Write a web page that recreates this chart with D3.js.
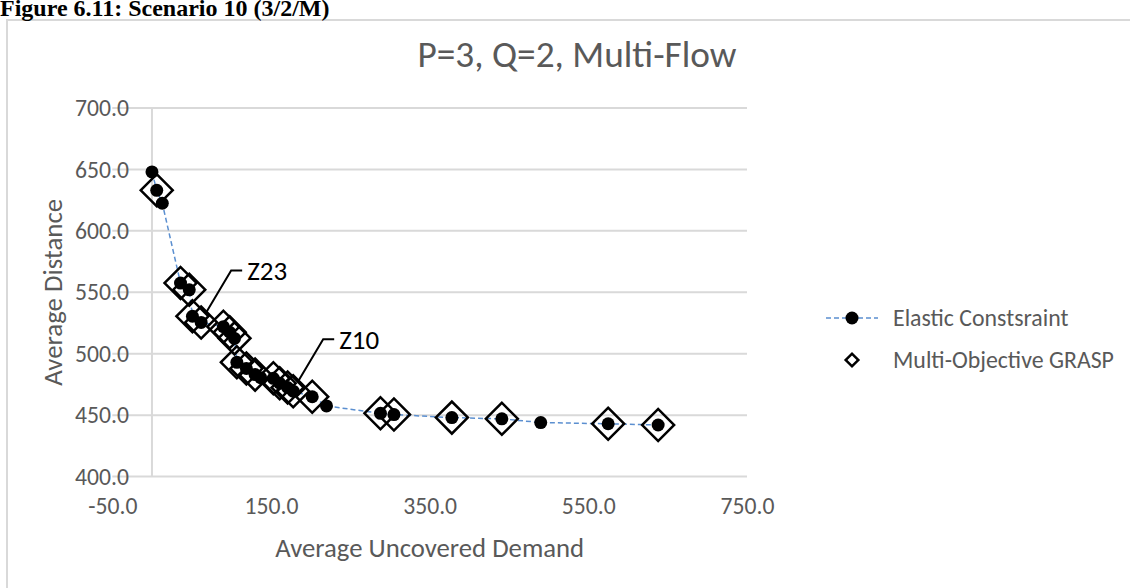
<!DOCTYPE html>
<html lang="en">
<head>
    <meta charset="UTF-8">
    <title>P=3, Q=2, Multi-Flow</title>
    <script src="https://d3js.org/d3.v7.min.js"></script>
    <style>
        body { margin: 0; background: #fff; }
        text { font-family: Carlito, Calibri, Lato, sans-serif; }
        .tick text { fill: #595959; font-size: 21px; }
        .grid { stroke: #d9d9d9; stroke-width: 2px; }
    </style>
</head>
<body>
    <svg width="1130" height="588"></svg>
    <script>
        // Elastic Constraint (x = avg uncovered demand, y = avg distance)
        const elasticX = [0, 6, 13, 36, 47, 51, 62, 90, 98, 104, 107, 119, 130, 137, 153, 161, 171, 178, 202, 220, 288, 305, 378, 441, 490, 575, 638];
        const elasticY = [648, 633, 622.5, 557.5, 552, 530.5, 525.5, 522, 517.5, 512.5, 493, 488, 483, 480.5, 480, 476, 472.5, 469.5, 465, 457.5, 451.5, 450.5, 448, 447, 444, 443, 442];

        // Multi-Objective GRASP
        const graspX = [6, 36, 47, 51, 62, 90, 98, 104, 107, 119, 130, 153, 161, 171, 178, 202, 288, 305, 378, 441, 575, 638];
        const graspY = [633, 557.5, 552, 530.5, 525.5, 522, 517.5, 512.5, 493, 488, 483, 480, 476, 472.5, 469.5, 465, 451.5, 450.5, 448, 447, 443, 442];

        const xTicks = [-50, 150, 350, 550, 750];
        const yTicks = [400, 450, 500, 550, 600, 650, 700];

        // labelled points: [x, y, text]
        const labelPts = [[62, 525.5, "Z23"], [178, 469.5, "Z10"]];

        const svg = d3.select("svg");
        const x = d3.scaleLinear().domain([-50, 750]).range([112.3, 747]);
        const y = d3.scaleLinear().domain([400, 700]).range([476.6, 108]);
        const fmt = d => d3.format(".1f")(d).replace("\u2212", "-");

        // scale a text's font so it is as wide as the original (Calibri) text
        function fit(sel, width) {
            const node = sel.node();
            const fs = parseFloat(getComputedStyle(node).fontSize);
            const w = node.getComputedTextLength();
            const size = fs * width / w;
            sel.style("font-size", size + "px");
            return size;
        }

        // chart border (runs off the right/bottom of the picture)
        svg.append("rect").attr("x", 7).attr("y", 20).attr("width", 1200).attr("height", 700)
            .attr("fill", "none").attr("stroke", "#d9d9d9").attr("stroke-width", 2);

        // caption above the chart, cut at the top
        svg.append("text").attr("x", 0).attr("y", 16)
            .style("font-family", "'Liberation Serif', 'Times New Roman', serif")
            .style("font-weight", "bold").style("font-size", "24px")
            .text("Figure 6.11: Scenario 10 (3/2/M)");

        // gridlines
        svg.append("g").selectAll("line").data(yTicks).join("line")
            .attr("class", "grid")
            .attr("x1", x(-50)).attr("x2", x(750))
            .attr("y1", d => y(d)).attr("y2", d => y(d));

        // y axis line at x = 0
        svg.append("line").attr("class", "grid")
            .attr("x1", x(0)).attr("x2", x(0)).attr("y1", y(400)).attr("y2", y(700));

        const yAxis = svg.append("g").attr("transform", `translate(${x(0)},0)`)
            .call(d3.axisLeft(y).tickValues(yTicks).tickFormat(fmt).tickSize(0).tickPadding(23));
        yAxis.select(".domain").remove();

        const xAxis = svg.append("g").attr("transform", `translate(0,${y(400)})`)
            .call(d3.axisBottom(x).tickValues(xTicks).tickFormat(fmt).tickSize(0).tickPadding(21));
        xAxis.select(".domain").remove();

        const tickSize = fit(yAxis.select(".tick:last-of-type text"), 54);
        svg.selectAll(".tick text").style("font-size", tickSize + "px");

        // title + axis titles
        const title = svg.append("text").attr("x", 577).attr("y", 67).attr("text-anchor", "middle")
            .attr("fill", "#595959").style("font-size", "36px").text("P=3, Q=2, Multi-Flow");
        fit(title, 319);
        const xTitle = svg.append("text").attr("x", (x(-50) + x(750)) / 2).attr("y", 557).attr("text-anchor", "middle")
            .attr("fill", "#595959").style("font-size", "25px").text("Average Uncovered Demand");
        fit(xTitle, 309);
        const yTitle = svg.append("text").attr("transform", `translate(62,${(y(400) + y(700)) / 2}) rotate(-90)`)
            .attr("text-anchor", "middle")
            .attr("fill", "#595959").style("font-size", "25px").text("Average Distance");
        fit(yTitle, 187);

        // dashed connecting line
        const elastic = elasticX.map((d, i) => [d, elasticY[i]]);
        const grasp = graspX.map((d, i) => [d, graspY[i]]);
        svg.append("path").datum(elastic)
            .attr("d", d3.line().x(d => x(d[0])).y(d => y(d[1])))
            .attr("fill", "none").attr("stroke", "#5b8fd0").attr("stroke-width", 1.5)
            .attr("stroke-dasharray", "5,3");

        const diamond = d3.symbol().type(d3.symbolSquare).size(16 * 16 * 2);
        svg.append("g").selectAll("path").data(grasp).join("path")
            .attr("d", diamond)
            .attr("transform", d => `translate(${x(d[0])},${y(d[1])}) rotate(45)`)
            .attr("fill", "none").attr("stroke", "#000").attr("stroke-width", 2.5);

        svg.append("g").selectAll("circle").data(elastic).join("circle")
            .attr("cx", d => x(d[0])).attr("cy", d => y(d[1])).attr("r", 6.5).attr("fill", "#000");

        // data labels with leader lines
        labelPts.forEach(p => {
            const px = x(p[0]), py = y(p[1]);
            svg.append("polyline")
                .attr("points", [[px + 5, py - 10], [px + 30, py - 52], [px + 41, py - 52]].map(q => q.join(",")).join(" "))
                .attr("fill", "none").attr("stroke", "#000").attr("stroke-width", 2);
            const t = svg.append("text").attr("x", px + 46).attr("y", py - 52).attr("dy", "0.35em")
                .attr("fill", "#000").style("font-size", "25px").text(p[2]);
            fit(t, 40);
        });

        // legend
        const lg = svg.append("g");
        lg.append("line").attr("x1", 826).attr("x2", 878).attr("y1", 318).attr("y2", 318)
            .attr("stroke", "#5b8fd0").attr("stroke-width", 1.5).attr("stroke-dasharray", "5,3");
        lg.append("circle").attr("cx", 852).attr("cy", 318).attr("r", 6.5).attr("fill", "#000");
        const l1 = lg.append("text").attr("x", 893).attr("y", 318).attr("dy", "0.35em")
            .attr("fill", "#595959").style("font-size", "21px").text("Elastic Constsraint");
        lg.append("path").attr("d", d3.symbol().type(d3.symbolSquare).size(80))
            .attr("transform", "translate(852,360) rotate(45)")
            .attr("fill", "none").attr("stroke", "#000").attr("stroke-width", 2.5);
        const l2 = lg.append("text").attr("x", 893).attr("y", 360).attr("dy", "0.35em")
            .attr("fill", "#595959").style("font-size", "21px").text("Multi-Objective GRASP");
        const legSize = fit(l2, 221);
        l1.style("font-size", legSize + "px");
    </script>
</body>
</html>
